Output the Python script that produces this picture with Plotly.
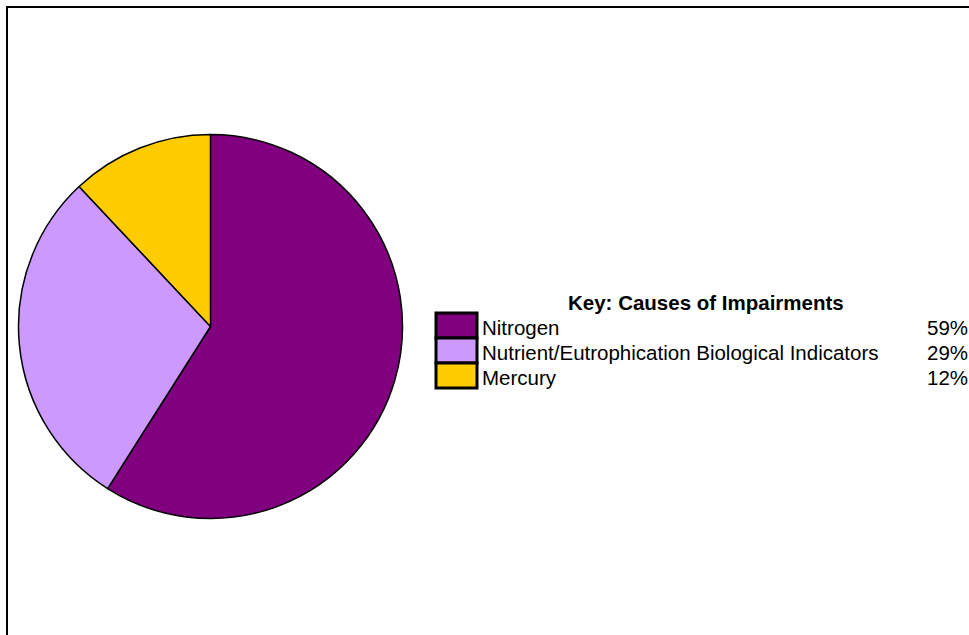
import plotly.graph_objects as go

categories = ["Nitrogen", "Nutrient/Eutrophication Biological Indicators", "Mercury"]
values = [59, 29, 12]
colors = ["#800080", "#CC99FF", "#FFCC00"]
legend_title = "Key: Causes of Impairments"

W, H = 969, 635
FONT = "Arial, 'Liberation Sans', sans-serif"
FS = 20.5


def px(x):
    return x / W


def py(y):
    return 1 - y / H


fig = go.Figure(
    go.Pie(
        labels=categories,
        values=values,
        marker=dict(colors=colors, line=dict(color="black", width=1.5)),
        sort=False,
        direction="clockwise",
        rotation=0,
        textinfo="none",
        hoverinfo="label+percent",
        showlegend=False,
        domain=dict(x=[px(18.5), px(402.5)], y=[py(518.5), py(134.5)]),
    )
)

shapes = [
    dict(type="rect", xref="paper", yref="paper",
         x0=px(7), x1=px(1010), y0=py(700), y1=py(7),
         line=dict(color="black", width=2), fillcolor="rgba(0,0,0,0)", layer="below")
]
annotations = [
    dict(text="<b>" + legend_title + "</b>", xref="paper", yref="paper",
         x=px(706), y=py(302), xanchor="center", yanchor="middle", showarrow=False,
         font=dict(family=FONT, size=FS, color="black"))
]

total = sum(values)
row_top, row_h = 313, 25
for i, (cat, val, col) in enumerate(zip(categories, values, colors)):
    t = row_top + i * row_h
    shapes.append(dict(type="rect", xref="paper", yref="paper",
                       x0=px(436), x1=px(477), y0=py(t + row_h), y1=py(t),
                       line=dict(color="black", width=3), fillcolor=col))
    cy = t + row_h / 2 + 2
    annotations.append(dict(text=cat, xref="paper", yref="paper",
                            x=px(480), y=py(cy), xanchor="left", yanchor="middle",
                            showarrow=False, font=dict(family=FONT, size=FS, color="black")))
    annotations.append(dict(text=f"{round(100 * val / total)}%", xref="paper", yref="paper",
                            x=px(970), y=py(cy), xanchor="right", yanchor="middle",
                            showarrow=False, font=dict(family=FONT, size=FS, color="black")))

fig.update_layout(
    width=W, height=H,
    margin=dict(l=0, r=0, t=0, b=0),
    paper_bgcolor="white", plot_bgcolor="white",
    shapes=shapes, annotations=annotations,
)

fig.write_html("out.html")
